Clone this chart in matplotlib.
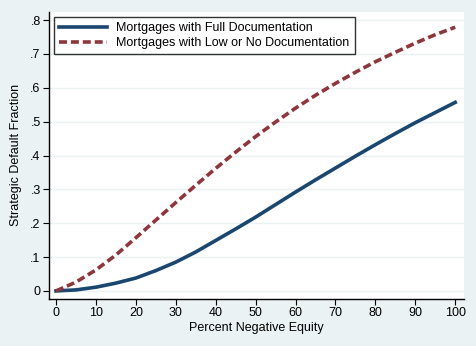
import matplotlib.pyplot as plt

# Percent negative equity (x) and strategic default fractions
equity = [0, 5, 10, 15, 20, 25, 30, 35, 40, 45, 50,
          55, 60, 65, 70, 75, 80, 85, 90, 95, 100]
full_doc = [0.0, 0.003, 0.011, 0.023, 0.038, 0.060, 0.085, 0.115, 0.149, 0.183, 0.218,
            0.255, 0.292, 0.328, 0.363, 0.398, 0.432, 0.465, 0.497, 0.527, 0.557]
low_doc = [0.0, 0.026, 0.062, 0.106, 0.157, 0.209, 0.261, 0.312, 0.362, 0.410, 0.456,
           0.499, 0.540, 0.578, 0.613, 0.646, 0.677, 0.705, 0.732, 0.757, 0.779]
series_labels = ['Mortgages with Full Documentation',
                 'Mortgages with Low or No Documentation']
x_ticks = list(range(0, 101, 10))
y_ticks = [0, 0.1, 0.2, 0.3, 0.4, 0.5, 0.6, 0.7, 0.8]
y_tick_labels = ['0', '.1', '.2', '.3', '.4', '.5', '.6', '.7', '.8']

plt.rcParams['font.family'] = ['Liberation Sans', 'DejaVu Sans']

bg = '#eaf2f3'
fig = plt.figure(figsize=(4.76, 3.46), dpi=100, facecolor=bg)
ax = fig.add_axes([49 / 476, 1 - 298.7 / 346, (464 - 49) / 476, (298.7 - 12) / 346])
ax.set_facecolor('white')

ax.plot(equity, full_doc, color='#1a476f', lw=2.6, label=series_labels[0])
ax.plot(equity, low_doc, color='#90353b', lw=2.6, ls=(0, (2.2, 1.1)), label=series_labels[1])

ax.set_xlim(-1.75, 102.2)
ax.set_ylim(-0.023, 0.824)
ax.set_xticks(x_ticks)
ax.set_yticks(y_ticks)
ax.set_yticklabels(y_tick_labels)
ax.tick_params(labelsize=9, length=4, width=0.8, color='black', pad=2)
ax.grid(axis='y', color=bg, lw=1)
ax.set_axisbelow(True)
for s in ['top', 'right']:
    ax.spines[s].set_visible(False)
for s in ['left', 'bottom']:
    ax.spines[s].set_linewidth(1)

ax.set_xlabel('Percent Negative Equity', fontsize=9, labelpad=2)
ax.set_ylabel('Strategic Default Fraction', fontsize=9, labelpad=6)

leg = ax.legend(loc='upper left', fontsize=9, frameon=True, fancybox=False,
                edgecolor='black', handlelength=3.8, borderaxespad=0.4,
                labelspacing=0.25, borderpad=0.4)
leg.get_frame().set_linewidth(1)

plt.savefig('out.png', dpi=100, facecolor=bg)
